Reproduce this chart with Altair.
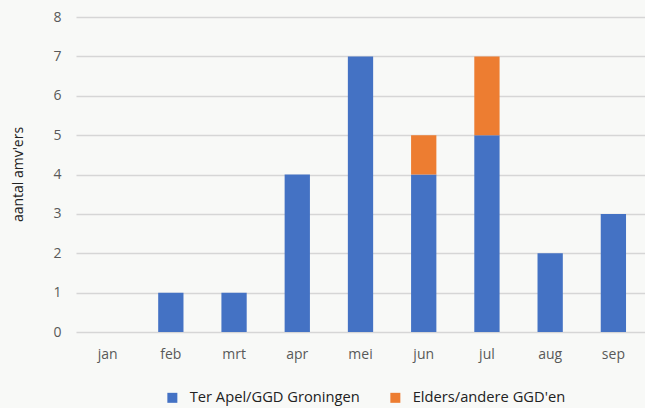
import altair as alt
import pandas as pd

months = ["jan", "feb", "mrt", "apr", "mei", "jun", "jul", "aug", "sep"]
ter_apel = [0, 1, 1, 4, 7, 4, 5, 2, 3]
elders = [0, 0, 0, 0, 0, 1, 2, 0, 0]
series = ["Ter Apel/GGD Groningen", "Elders/andere GGD'en"]
colors = ["#4472C4", "#ED7D31"]

rows = []
for m, a, b in zip(months, ter_apel, elders):
    rows.append({"maand": m, "reeks": series[0], "waarde": a, "volgorde": 0})
    rows.append({"maand": m, "reeks": series[1], "waarde": b, "volgorde": 1})
df = pd.DataFrame(rows)

FONT = "Open Sans"
TXT = "#595959"

chart = alt.Chart(df).mark_bar().encode(
    x=alt.X("maand:N", sort=months, title=None,
            scale=alt.Scale(paddingInner=0.6, paddingOuter=0.3),
            axis=alt.Axis(labelAngle=0, ticks=False, domain=False, labelPadding=15,
                          labelFontSize=14, labelColor=TXT, labelFont=FONT)),
    y=alt.Y("waarde:Q", stack="zero", title="aantal amv'ers",
            scale=alt.Scale(domain=[0, 8]),
            axis=alt.Axis(values=list(range(9)), ticks=False, domain=False, labelPadding=15,
                          labelFontSize=14, labelColor=TXT, labelFont=FONT,
                          gridColor="#D6D6D6", gridWidth=1.5,
                          titleFont=FONT, titleFontSize=14, titleColor="#222222",
                          titleFontWeight="normal", titleAngle=270,
                          titleX=-58, titleY=157, titleAlign="center", titleBaseline="middle")),
    color=alt.Color("reeks:N", sort=series,
                    scale=alt.Scale(domain=series, range=colors),
                    legend=alt.Legend(title=None, orient="none", direction="horizontal",
                                      legendX=89, legendY=373, symbolType="square",
                                      symbolSize=100, symbolStrokeWidth=0, labelLimit=0,
                                      labelFont=FONT, labelFontSize=14.7, labelColor="#222222",
                                      labelOffset=10, columnPadding=28)),
    order=alt.Order("volgorde:Q"),
).properties(
    width=569, height=315,
    padding={"left": 76, "top": 17, "right": 0, "bottom": 76},
    autosize=alt.AutoSizeParams(type="none"),
    background="#F8F9F7",
).configure_view(stroke=None)

chart.save("out.html", embed_options={"renderer": "svg", "actions": False})
